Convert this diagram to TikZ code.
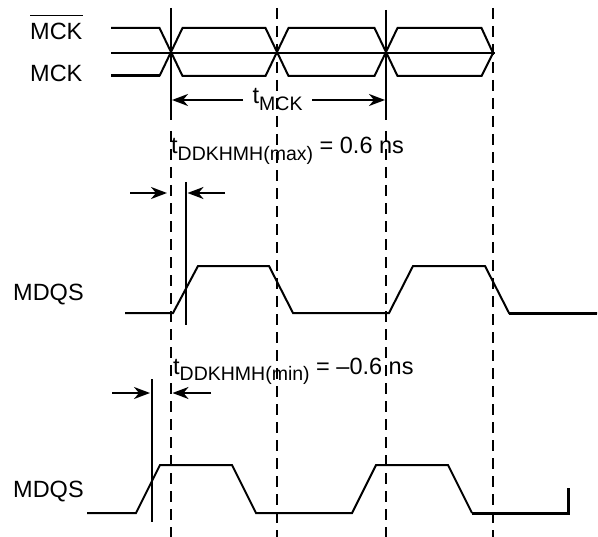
\documentclass[tikz,border=0pt]{standalone}
\usepackage{fontspec}
\setmainfont{Liberation Sans}
\usetikzlibrary{arrows.meta}
\tikzset{
  sig/.style={line width=2bp, line join=miter},
  sigthick/.style={line width=3bp},
  marker/.style={line width=2.2bp},
  guide/.style={line width=2.2bp, dash pattern=on 11bp off 7bp},
  dim/.style={line width=2bp, -{Stealth[length=16bp,width=12bp,inset=5bp]}},
  lbl/.style={inner sep=0pt, anchor=base west, font=\fontsize{23.5bp}{27bp}\selectfont},
}
\newcommand{\sbs}[1]{\raisebox{-6.5bp}{\fontsize{19.5bp}{23bp}\selectfont #1}}
\begin{document}
\begin{tikzpicture}[x=1bp,y=-1bp]
\useasboundingbox (0,0) rectangle (598,537);

% guide lines
\coordinate (g1t) at (171,8);   \coordinate (g1m) at (171,120);
\coordinate (g1d) at (171,131); \coordinate (g1b) at (171,537);
\coordinate (g2t) at (277,8);   \coordinate (g2b) at (277,537);
\coordinate (g3t) at (386,10);  \coordinate (g3m) at (386,120);
\coordinate (g3d) at (386,131); \coordinate (g3b) at (386,537);
\coordinate (g4t) at (493,8);   \coordinate (g4b) at (493,537);
\draw[marker] (g1t) -- (g1m);
\draw[guide] (g1d) -- (g1b);
\draw[guide] (g2t) -- (g2b);
\draw[marker] (g3t) -- (g3m);
\draw[guide] (g3d) -- (g3b);
\draw[guide] (g4t) -- (g4b);

% labels
\node[lbl] (mckbar) at (30,40) {MCK};
\draw[line width=1.5bp] ([yshift=8bp]mckbar.north west) -- ([yshift=8bp]mckbar.north east);
\node[lbl] (mck) at (30,82) {MCK};
\node[lbl] (mdqs1) at (13,300) {MDQS};
\node[lbl] (mdqs2) at (13,497) {MDQS};

% clock waveforms
\draw[sig] (111,53) -- (495,53);
\draw[sig] (111,28) -- (159.5,28) -- (182.5,76) -- (265.5,76) -- (288.5,28) -- (374.5,28) -- (397.5,76) -- (481.5,76) -- (493,53);
\draw[sig] (159.5,76) -- (182.5,28) -- (265.5,28) -- (288.5,76) -- (374.5,76) -- (397.5,28) -- (481.5,28) -- (493,53);
\draw[sigthick] (111,76) -- (159.5,76);

% tMCK
\coordinate (tm1s) at (243,100); \coordinate (tm1e) at (172,100);
\coordinate (tm2s) at (312,100); \coordinate (tm2e) at (385,100);
\draw[dim] (tm1s) -- (tm1e);
\draw[dim] (tm2s) -- (tm2e);
\node[lbl] (tmck) at (252.5,104) {t\sbs{MCK}};

% max
\node[lbl] (tmax) at (171,154) {t\sbs{DDKHMH(max)} = 0.6 ns};
\coordinate (a1s) at (130,193); \coordinate (a1e) at (167,193);
\coordinate (a2s) at (225,193); \coordinate (a2e) at (187.5,193);
\draw[dim] (a1s) -- (a1e);
\draw[dim] (a2s) -- (a2e);
\coordinate (sk1t) at (186,182); \coordinate (sk1b) at (186,325);
\draw[marker] (sk1t) -- (sk1b);
\draw[sig] (125,313) -- (173,313) -- (198,266) -- (269,266) -- (293,313) -- (389,313) -- (413,266) -- (485,266) -- (509,313) -- (597,313);
\draw[sigthick] (509,313) -- (597,313);

% min
\node[lbl] (tmin) at (173,374) {t\sbs{DDKHMH(min)} = –0.6 ns};
\coordinate (b1s) at (112,393); \coordinate (b1e) at (150,393);
\coordinate (b2s) at (211,393); \coordinate (b2e) at (172.5,393);
\draw[dim] (b1s) -- (b1e);
\draw[dim] (b2s) -- (b2e);
\coordinate (sk2t) at (152,379); \coordinate (sk2b) at (152,522);
\draw[marker] (sk2t) -- (sk2b);
\draw[sig] (87,513) -- (136,513) -- (160,465) -- (232,465) -- (256,513) -- (352,513) -- (376,465) -- (448,465) -- (472,513);
\draw[sigthick] (472,513) -- (568,513) -- (568,488);
\end{tikzpicture}
\end{document}
